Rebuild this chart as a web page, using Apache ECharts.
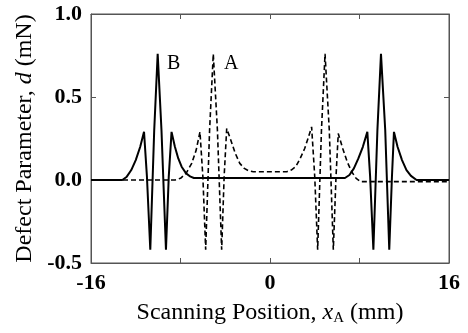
<!DOCTYPE html>
<html><head><meta charset="utf-8">
<script src="https://cdn.jsdelivr.net/npm/echarts@6/dist/echarts.min.js"></script>
<style>html,body{margin:0;padding:0;background:#fff}#c{width:468px;height:333px}</style>
</head><body><div id="c"></div>
<script>
// Curve B (solid)
var xB = [-16, -13.2, -12.8, -12.4, -12.0, -11.6, -11.26, -11.0, -10.7, -10.35, -10.04, -9.7, -9.3, -9.05, -8.8, -8.5, -8.2, -7.9, -7.5, -7.1, -6.8, 6.7, 7.1, 7.5, 7.9, 8.3, 8.7, 8.95, 9.24, 9.6, 9.92, 10.3, 10.66, 10.9, 11.08, 11.4, 11.8, 12.2, 12.6, 13.1, 16];
var yB = [0, 0, 0.02, 0.06, 0.12, 0.2, 0.29, 0.02, -0.42, 0.3, 0.76, 0.3, -0.42, 0.02, 0.29, 0.2, 0.13, 0.08, 0.04, 0.02, 0.012, 0.012, 0.03, 0.07, 0.13, 0.2, 0.29, 0.02, -0.42, 0.3, 0.76, 0.3, -0.42, 0.02, 0.29, 0.2, 0.12, 0.06, 0.025, 0, 0];
// Curve A (dashed)
var xA = [-16, -8.5, -8.0, -7.5, -7.0, -6.6, -6.26, -6.0, -5.75, -5.4, -5.07, -4.7, -4.32, -4.1, -3.87, -3.5, -3.1, -2.7, -2.3, -1.9, -1.5, 1.5, 1.9, 2.3, 2.7, 3.1, 3.4, 3.72, 4.0, 4.26, 4.6, 4.92, 5.3, 5.66, 5.9, 6.1, 6.5, 6.9, 7.3, 7.7, 8.1, 16];
var yA = [0, 0, 0.01, 0.04, 0.1, 0.18, 0.29, 0.02, -0.42, 0.3, 0.76, 0.3, -0.42, 0.02, 0.31, 0.24, 0.16, 0.1, 0.07, 0.055, 0.05, 0.05, 0.06, 0.08, 0.13, 0.19, 0.25, 0.32, 0.02, -0.42, 0.3, 0.76, 0.3, -0.42, 0.02, 0.28, 0.19, 0.11, 0.05, 0.01, -0.01, -0.01];
var xTickLabels = {"-16": "-16", "0": "0", "16": "16"};
var curveNames = ["B", "A"];

function pairs(xs, ys) { return xs.map(function (x, i) { return [x, ys[i]]; }); }
var FONT = "Liberation Serif";
var chart = echarts.init(document.getElementById('c'), null, {renderer: 'canvas'});
var axisLineStyle = {color: '#555', width: 1};
chart.setOption({
  animation: false,
  backgroundColor: '#fff',
  grid: {left: 91, right: 19, top: 14, bottom: 70, show: true, borderColor: '#555', borderWidth: 1},
  xAxis: [{
    type: 'value', min: -16, max: 16, interval: 8, position: 'bottom',
    axisLine: {show: true, onZero: false, lineStyle: axisLineStyle},
    axisTick: {show: true, inside: true, length: 5, lineStyle: axisLineStyle},
    splitLine: {show: false},
    axisLabel: {margin: 9, fontFamily: FONT, fontWeight: 'bold', fontSize: 22, color: '#000',
      formatter: function (v) { return xTickLabels[String(v)] || ''; }},
    name: '{n|Scanning Position, }{i|x}{s|A}{n| (mm)}', nameLocation: 'middle', nameGap: 36,
    nameTextStyle: {rich: {
      n: {fontFamily: FONT, fontSize: 24, color: '#000'},
      i: {fontFamily: FONT, fontSize: 24, fontStyle: 'italic', color: '#000'},
      s: {fontFamily: FONT, fontSize: 15, color: '#000', padding: [12, 0, 0, 0]}
    }}
  }, {
    type: 'value', min: -16, max: 16, interval: 8, position: 'top',
    axisLine: {show: true, onZero: false, lineStyle: axisLineStyle},
    axisTick: {show: true, inside: true, length: 5, lineStyle: axisLineStyle},
    axisLabel: {show: false}, splitLine: {show: false}
  }],
  yAxis: [{
    type: 'value', min: -0.5, max: 1.0, interval: 0.5, position: 'left',
    axisLine: {show: true, onZero: false, lineStyle: axisLineStyle},
    axisTick: {show: true, inside: true, length: 5, lineStyle: axisLineStyle},
    splitLine: {show: false},
    axisLabel: {margin: 9, fontFamily: FONT, fontWeight: 'bold', fontSize: 22, color: '#000',
      formatter: function (v) { return v.toFixed(1); }},
    name: '{n|Defect Parameter, }{i|d}{n| (mN)}', nameLocation: 'middle', nameGap: 54,
    nameTextStyle: {rich: {
      n: {fontFamily: FONT, fontSize: 24, color: '#000'},
      i: {fontFamily: FONT, fontSize: 24, fontStyle: 'italic', color: '#000'}
    }}
  }, {
    type: 'value', min: -0.5, max: 1.0, interval: 0.5, position: 'right',
    axisLine: {show: true, onZero: false, lineStyle: axisLineStyle},
    axisTick: {show: true, inside: true, length: 5, lineStyle: axisLineStyle},
    axisLabel: {show: false}, splitLine: {show: false}
  }],
  series: [{
    name: curveNames[0], type: 'line', data: pairs(xB, yB), symbol: 'none', smooth: false,
    lineStyle: {color: '#000', width: 2, type: 'solid'}
  }, {
    name: curveNames[1], type: 'line', data: pairs(xA, yA), symbol: 'none', smooth: false,
    lineStyle: {color: '#000', width: 1.6, type: [5, 3]}
  }],
  graphic: [
    {type: 'text', left: 167, top: 54, style: {text: curveNames[0], font: '20px "Liberation Serif"', fill: '#000'}},
    {type: 'text', left: 224, top: 54, style: {text: curveNames[1], font: '20px "Liberation Serif"', fill: '#000'}}
  ]
});
</script></body></html>
